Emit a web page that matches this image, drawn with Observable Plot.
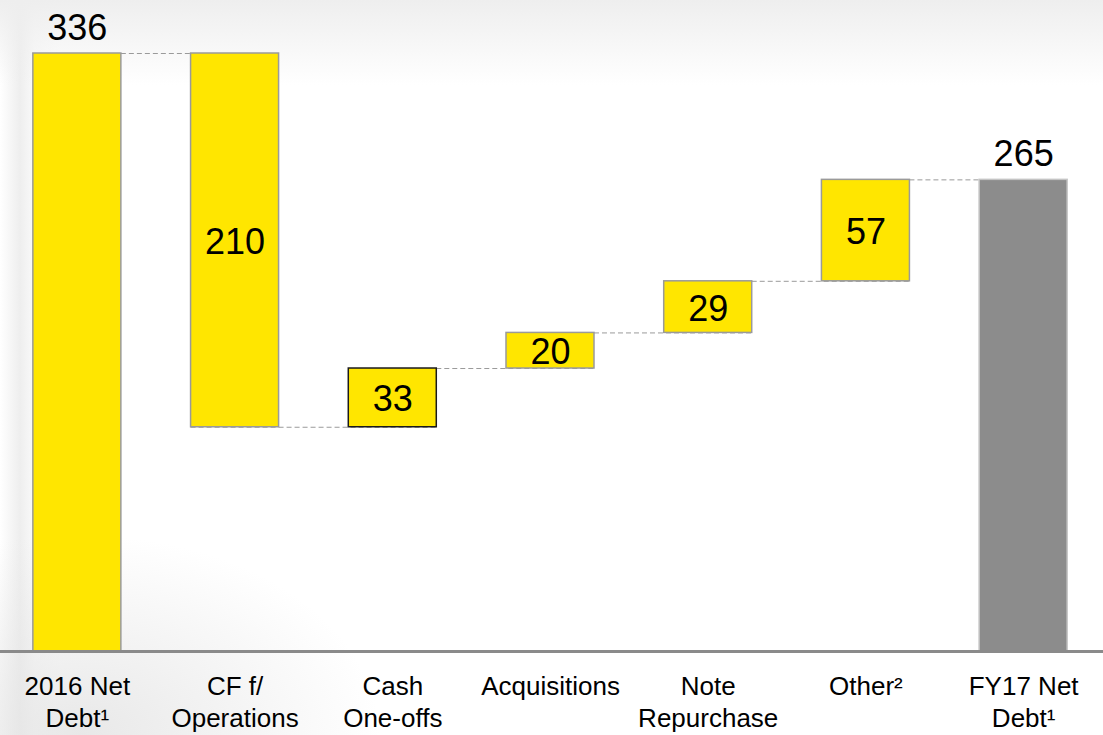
<!DOCTYPE html>
<html>
<head>
<meta charset="utf-8">
<script src="https://cdn.jsdelivr.net/npm/d3@7"></script>
<script src="https://cdn.jsdelivr.net/npm/@observablehq/plot@0.6"></script>
<style>
  html, body { margin: 0; padding: 0; }
  body {
    width: 1103px; height: 735px; overflow: hidden;
    background:
      linear-gradient(to bottom, rgba(238,238,238,1) 0px, rgba(255,255,255,0) 85px),
      radial-gradient(ellipse 300px 200px at 80px 735px, rgba(228,228,228,0.85), rgba(255,255,255,0) 100%),
      linear-gradient(to right, rgba(255,255,255,1) 0px, rgba(238,238,238,1) 20px, rgba(250,250,250,1) 34px, rgba(255,255,255,0) 60px),
      #ffffff;
    font-family: "Liberation Sans", Arial, sans-serif;
  }
  #chart svg { display: block; }
</style>
</head>
<body>
<div id="chart"></div>
<script>
const categories = ["2016 Net\nDebt¹", "CF f/\nOperations", "Cash\nOne-offs", "Acquisitions", "Note\nRepurchase", "Other²", "FY17 Net\nDebt¹"];
const values = [336, -210, 33, 20, 29, 57, 265];
const kinds = ["total", "delta", "delta", "delta", "delta", "delta", "total"];
const labels = ["336", "210", "33", "20", "29", "57", "265"];

// Build waterfall table from the arrays
let running = 0;
const rows = categories.map((c, i) => {
  let y1, y2;
  if (kinds[i] === "total") { y1 = 0; y2 = values[i]; running = values[i]; }
  else { y1 = running; y2 = running + values[i]; running = y2; }
  return {cat: c, y1: Math.min(y1, y2), y2: Math.max(y1, y2), end: running, kind: kinds[i], label: labels[i], i};
});
const connectors = rows.slice(0, -1).map((r, i) => ({x1: r.cat, x2: rows[i + 1].cat, y: r.end}));

const fillFor = d => d.kind === "total" && d.i === rows.length - 1 ? "#8c8c8c" : "#ffe600";
const strokeFor = d => d.i === 2 ? "#1a1a1a" : (d.i === rows.length - 1 ? "#c4c4c4" : "#9a9a9a");

const chart = Plot.plot({
  width: 1103,
  height: 735,
  marginTop: 53,
  marginBottom: 84,
  marginLeft: 0,
  marginRight: 0,
  style: {background: "transparent", fontFamily: "'Liberation Sans', Arial, sans-serif", color: "#000"},
  x: {domain: categories, range: [-2, 1102], paddingInner: 0.442, paddingOuter: 0.221, round: false, axis: null},
  y: {domain: [0, 336], axis: null},
  marks: [
    Plot.ruleY(connectors, {x1: "x1", x2: "x2", y: "y", stroke: "#9a9a9a", strokeWidth: 1, strokeDasharray: "5,3"}),
    Plot.barY(rows, {x: "cat", y1: "y1", y2: "y2", fill: fillFor, stroke: strokeFor, strokeWidth: 1.5}),
    Plot.ruleY([0], {stroke: "#8a8a8a", strokeWidth: 3}),
    // totals above bars
    Plot.text(rows.filter(d => d.kind === "total"), {x: "cat", y: "y2", text: "label", fontSize: 36, lineAnchor: "bottom", dy: -14, fill: "#000"}),
    // deltas inside bars
    Plot.text(rows.filter(d => d.kind === "delta"), {x: "cat", y: d => (d.y1 + d.y2) / 2, text: "label", fontSize: 36, lineAnchor: "middle", dy: 2, fill: "#000"}),
    // category labels
    Plot.text(rows, {x: "cat", y: () => 0, text: "cat", fontSize: 26, lineAnchor: "top", dy: 21, lineHeight: 1.23, fill: "#000"})
  ]
});
document.getElementById("chart").appendChild(chart);
</script>
</body>
</html>
